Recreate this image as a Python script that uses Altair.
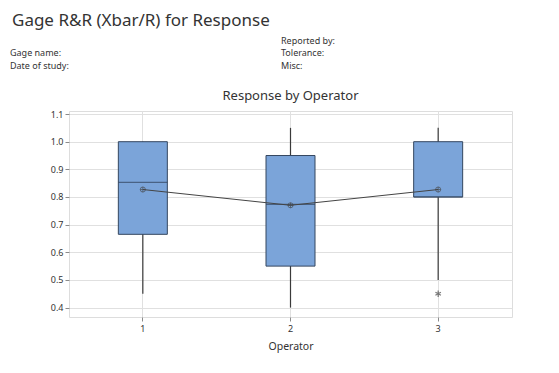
import altair as alt
import pandas as pd

operators = ["1", "2", "3"]
q1 = [0.665, 0.55, 0.80]
q3 = [1.00, 0.95, 1.00]
median = [0.853, 0.773, 0.80]
mean = [0.827, 0.770, 0.827]
whisker_low = [0.45, 0.40, 0.50]
whisker_high = [1.00, 1.05, 1.05]
outlier_op = ["3"]
outlier_val = [0.45]
y_ticks = [0.4, 0.5, 0.6, 0.7, 0.8, 0.9, 1.0, 1.1]

header_left = ["Gage name:", "Date of study:"]
header_right = ["Reported by:", "Tolerance:", "Misc:"]

df = pd.DataFrame({"op": operators, "q1": q1, "q3": q3, "median": median,
                   "mean": mean, "lo": whisker_low, "hi": whisker_high})
out = pd.DataFrame({"op": outlier_op, "val": outlier_val})

FONT = "Noto Sans"
BOX = "#7BA4D9"
EDGE = "#34465F"

xaxis = alt.Axis(labelAngle=0, bandPosition=0.5, grid=True,
                 gridColor="#e0e0e0", tickColor="#8a8a8a",
                 tickSize=4, labelFontSize=9, labelColor="#333",
                 labelPadding=3, titleFontSize=10.5,
                 titleFontWeight="normal", titleColor="#333",
                 titlePadding=8, labelFont=FONT, titleFont=FONT,
                 domain=False)
xscale = alt.Scale(paddingInner=0, paddingOuter=0)


def X():
    return alt.X("op:O", title="Operator", scale=xscale, axis=xaxis)


yscale = alt.Scale(domain=[0.366, 1.111], nice=False, zero=False)
yaxis = alt.Axis(values=y_ticks, format=".1f", title=None, grid=True,
                 gridColor="#e0e0e0", tickColor="#8a8a8a", tickSize=4,
                 labelFontSize=9, labelColor="#333", labelFont=FONT,
                 labelOverlap=False, labelFlush=False,
                 domain=False, labelPadding=2)


def Y(field):
    return alt.Y(field, scale=yscale, axis=yaxis, title=None)


base = alt.Chart(df)

whisk = base.mark_rule(color="#3a3a3a", strokeWidth=1.2).encode(
    x=X(), y=Y("lo:Q"), y2="hi:Q")
box = base.mark_bar(size=49, color=BOX, stroke=EDGE, strokeWidth=1).encode(
    x=X(), y=Y("q1:Q"), y2="q3:Q")
med = base.mark_tick(size=49, thickness=1.2, color=EDGE, orient="horizontal").encode(
    x=X(), y=Y("median:Q"))
mline = base.mark_line(color="#444", strokeWidth=1).encode(
    x=X(), y=Y("mean:Q"))
mcirc = base.mark_point(shape="circle", size=26, filled=False, color="#444",
                        strokeWidth=0.9).encode(x=X(), y=Y("mean:Q"))
mcross = base.mark_point(shape="M-1,0L1,0M0,-1L0,1", size=26, filled=False,
                         color="#444", strokeWidth=0.9).encode(x=X(), y=Y("mean:Q"))
outl = alt.Chart(out).mark_point(
    shape="M0,-1L0,1M-0.87,-0.5L0.87,0.5M-0.87,0.5L0.87,-0.5",
    size=40, filled=False, color="#444", strokeWidth=1.2).encode(
    x=X(), y=Y("val:Q"))

hdr = alt.Chart(pd.DataFrame({"t": ["Gage R&R (Xbar/R) for Response"]})).mark_text(
    align="left", baseline="alphabetic", fontSize=17, font=FONT, color="#333"
).encode(text="t:N", x=alt.value(-57), y=alt.value(-85))

sub = alt.Chart(pd.DataFrame({"t": ["Response by Operator"]})).mark_text(
    align="center", baseline="middle", fontSize=13, font=FONT, color="#333"
).encode(text="t:N", x=alt.value(221.5), y=alt.value(-15))

left_y = [-58, -45]
right_y = [-70, -58, -45]
info_layers = []
for t, yy in zip(header_left, left_y):
    info_layers.append(alt.Chart(pd.DataFrame({"t": [t]})).mark_text(
        align="left", baseline="middle", fontSize=9, font=FONT, color="#333"
    ).encode(text="t:N", x=alt.value(-59), y=alt.value(yy)))
for t, yy in zip(header_right, right_y):
    info_layers.append(alt.Chart(pd.DataFrame({"t": [t]})).mark_text(
        align="left", baseline="middle", fontSize=9, font=FONT, color="#333"
    ).encode(text="t:N", x=alt.value(212), y=alt.value(yy)))

chart = alt.layer(whisk, box, med, mline, mcirc, mcross, outl, hdr, sub, *info_layers).properties(
    width=443, height=206,
    autosize=alt.AutoSizeParams(type="none"),
    padding={"left": 61, "top": 103, "right": 39, "bottom": 48},
).configure_view(stroke="#666666", strokeWidth=1.2).configure(background="white")

chart.save("out.html", embed_options={"renderer": "svg", "actions": False})
